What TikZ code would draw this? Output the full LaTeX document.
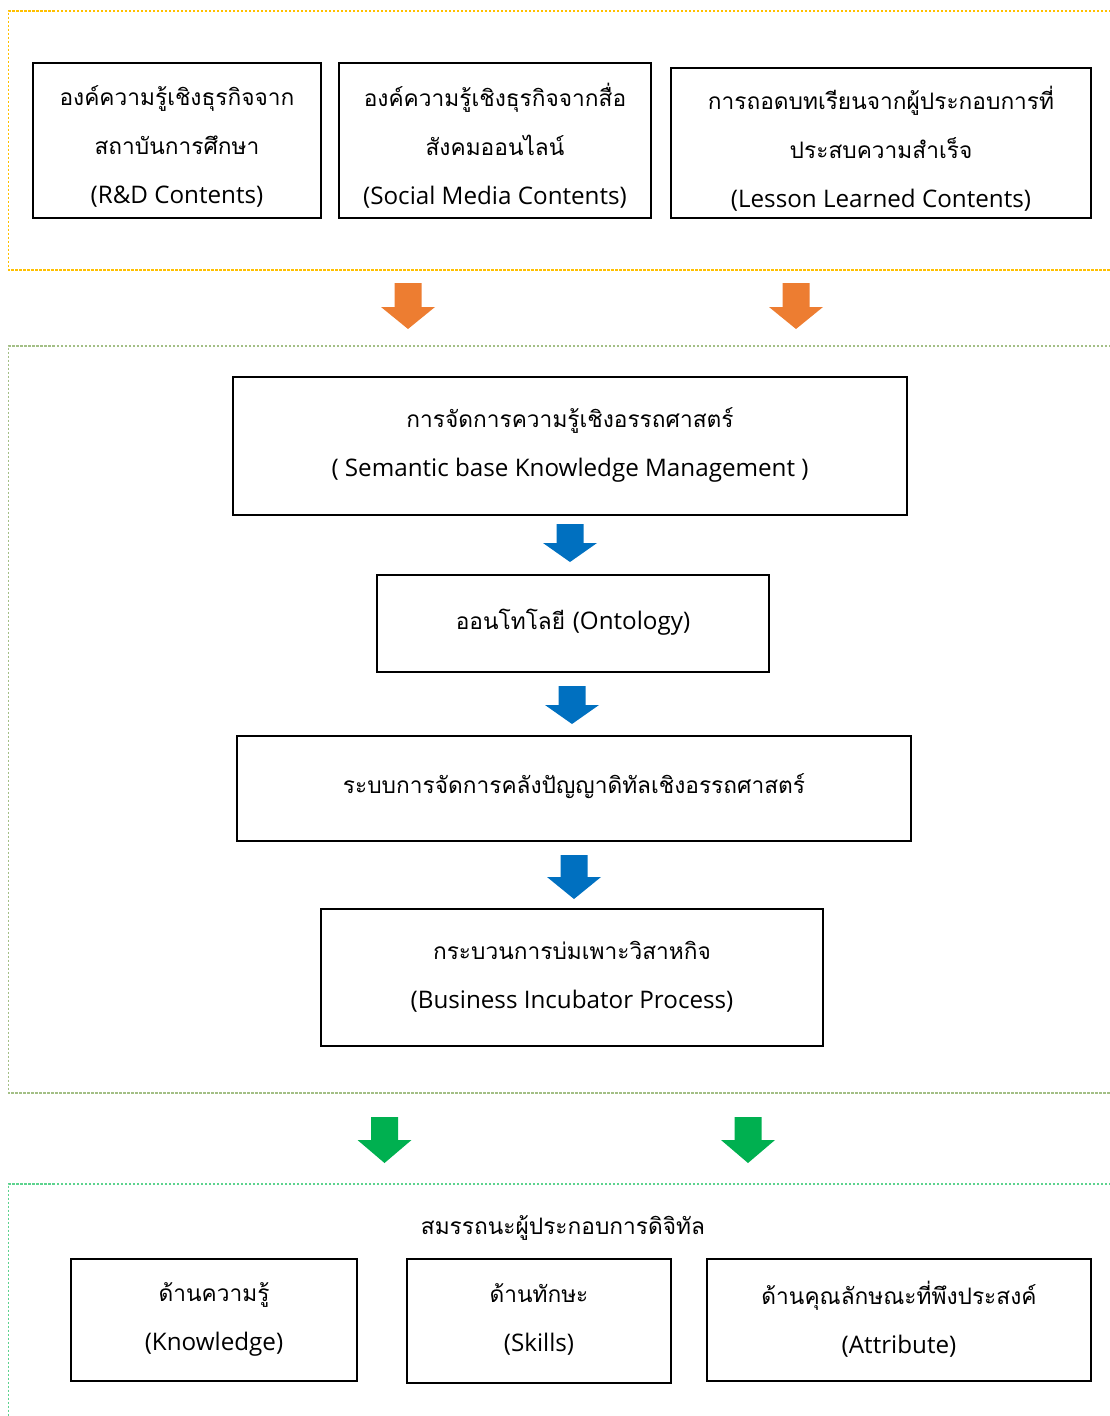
\documentclass[tikz,border=0pt]{standalone}
\usepackage{fontspec}
\setmainfont[Script=Thai]{Loma}
\newfontfamily\latinface{Open Sans}
\newcommand\latn[1]{{\latinface\fontsize{24.2}{49}\selectfont #1}}
\begin{document}
\begin{tikzpicture}[x=1pt,y=-1pt,
  box/.style={draw=black, line width=2pt, inner sep=0pt},
  label/.style={align=center, inner sep=0pt, font=\fontsize{22.7}{49}\selectfont},
  zone/.style={line width=1.1pt, dash pattern=on 2.5pt off 1.5pt},
]
\definecolor{zoneyellow}{HTML}{FFC000}
\definecolor{zoneolive}{HTML}{A3BF86}
\definecolor{zonegreen}{HTML}{5CD38E}
\definecolor{arrorange}{HTML}{ED7D31}
\definecolor{arrblue}{HTML}{0070C0}
\definecolor{arrgreen}{HTML}{00B050}

\useasboundingbox (0,0) rectangle (1109,1416);

% block arrow pointing down: centre x, top, head start, tip, colour
\newcommand\blockarrow[5]{%
  \fill[#5] (#1-13.5,#2) -- (#1+13.5,#2) -- (#1+13.5,#3) -- (#1+27,#3)
    -- (#1,#4) -- (#1-27,#3) -- (#1-13.5,#3) -- cycle;}

% grouping zones (open to the right and bottom edge)
\draw[zone, zoneyellow] (1115,11) -- (8.5,11) -- (8.5,270) -- (1115,270);
\draw[zone, zoneolive] (1115,346) -- (8.5,346) -- (8.5,1093) -- (1115,1093);
\draw[zone, zonegreen] (1115,1184) -- (8.5,1184) -- (8.5,1420);

% knowledge sources
\node[box, minimum width=288, minimum height=155] (rd) at (177,140.5) {};
\node[label] (rdt) at (177,146)
  {องค์ความรู้เชิงธุรกิจจาก\\สถาบันการศึกษา\\\latn{(R\&D Contents)}};
\node[box, minimum width=312, minimum height=155] (sm) at (495,140.5) {};
\node[label] (smt) at (495,146)
  {องค์ความรู้เชิงธุรกิจจากสื่อ\\สังคมออนไลน์\\\latn{(Social Media Contents)}};
\node[box, minimum width=420, minimum height=150] (ll) at (881,143) {};
\node[label] (llt) at (881,149)
  {การถอดบทเรียนจากผู้ประกอบการที่\\ประสบความสำเร็จ\\\latn{(Lesson Learned Contents)}};

\blockarrow{408}{283}{307}{329}{arrorange}
\blockarrow{796}{283}{307}{329}{arrorange}

% processing chain
\node[box, minimum width=674, minimum height=138] (skm) at (570,446) {};
\node[label] (skmt) at (570,445)
  {การจัดการความรู้เชิงอรรถศาสตร์\\\latn{( Semantic base Knowledge Management )}};
\blockarrow{570}{524}{543}{562}{arrblue}
\node[box, minimum width=392, minimum height=97] (onto) at (573,623.5) {};
\node[label] (ontot) at (573,622) {ออนโทโลยี \latn{(Ontology)}};
\blockarrow{572}{686}{705}{724}{arrblue}
\node[box, minimum width=674, minimum height=105] (dkm) at (574,788.5) {};
\node[label] (dkmt) at (574,786) {ระบบการจัดการคลังปัญญาดิทัลเชิงอรรถศาสตร์};
\blockarrow{574}{855}{877}{899}{arrblue}
\node[box, minimum width=502, minimum height=137] (bip) at (572,977.5) {};
\node[label] (bipt) at (572,977)
  {กระบวนการบ่มเพาะวิสาหกิจ\\\latn{(Business Incubator Process)}};

\blockarrow{384.5}{1117}{1140}{1163}{arrgreen}
\blockarrow{748}{1117}{1140}{1163}{arrgreen}

% digital entrepreneur competencies
\node[label] (comp) at (563,1228) {สมรรถนะผู้ประกอบการดิจิทัล};
\node[box, minimum width=286, minimum height=122] (know) at (214,1320) {};
\node[label] (knowt) at (214,1319) {ด้านความรู้\\\latn{(Knowledge)}};
\node[box, minimum width=264, minimum height=124] (skill) at (539,1321) {};
\node[label] (skillt) at (539,1319) {ด้านทักษะ\\\latn{(Skills)}};
\node[box, minimum width=384, minimum height=122] (attr) at (899,1320) {};
\node[label] (attrt) at (899,1319) {ด้านคุณลักษณะที่พึงประสงค์\\\latn{(Attribute)}};
\end{tikzpicture}
\end{document}
